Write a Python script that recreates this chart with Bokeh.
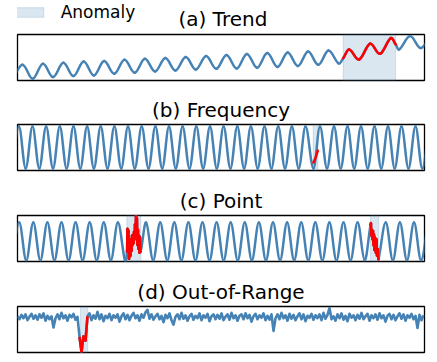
from bokeh.plotting import figure
from bokeh.layouts import column
from bokeh.models import Range1d, Legend, LegendItem, ColumnDataSource, Label
from bokeh.embed import file_html
from bokeh.resources import INLINE

BLUE = "#4682B4"
RED = "#FF0000"

# ---------------- data (time index, value) ----------------
# (a) Trend: extrema of the sinusoid with a rising trend, anomaly = steeper trend
A_T = [-5.2, 5.0, 15.2, 25.4, 35.6, 45.8, 56.0, 66.2, 76.4, 86.6, 96.8, 107.0, 117.2,
       127.4, 137.6, 147.8, 158.0, 168.2, 178.4, 188.6, 198.8, 209.0, 219.2, 229.4,
       239.6, 249.8, 260.0, 270.2, 280.4, 290.6, 300.8, 311.0, 321.2, 325.7, 331.6,
       341.6, 352.6, 362.6, 373.3, 378.3, 381.6, 392.6, 403.3, 413.6]
A_V = [0.8, 15.7, 1.7, 16.7, 3.4, 17.7, 4.4, 19.0, 5.0, 19.4, 6.7, 20.7, 7.7,
       21.7, 9.0, 22.4, 10.0, 23.4, 11.0, 24.4, 11.7, 25.6, 12.0, 26.6,
       12.8, 27.4, 13.6, 28.1, 14.4, 29.0, 15.7, 30.0, 17.0, 22.3, 31.0,
       21.0, 36.7, 26.7, 42.4, 36.0, 31.0, 44.4, 32.4, 45.5]
A_RED = [(325.7, 378.3)]
A_SHADE = [(325.7, 378.0)]
A_YR = (0.0, 46.0)

# (b) Frequency
B_T = [-5.4, 1.4, 8.2, 15.0, 21.8, 28.6, 35.5, 42.3, 49.1, 56.0, 62.8, 69.6, 76.4,
       83.2, 90.0, 96.9, 103.7, 110.5, 117.3, 124.2, 131.0, 137.9, 144.7, 151.5,
       158.3, 165.1, 172.0, 178.8, 185.6, 192.5, 199.3, 206.1, 212.9, 219.8, 226.6,
       233.4, 240.2, 247.0, 253.9, 260.7, 267.5, 274.4, 281.2, 288.0, 296.0, 302.5,
       309.5, 316.5, 323.2, 330.0, 336.7, 343.5, 350.2, 357.0, 363.7, 370.5, 377.2,
       384.0, 391.0, 398.0, 404.8, 411.6]
B_V = [-1, 1, -1, 1, -1, 1, -1, 1, -1, 1, -1, 1, -1,
       1, -1, 1, -1, 1, -1, 1, -1, 1, -1, 1,
       -1, 1, -1, 1, -1, 1, -1, 1, -1, 1, -1,
       1, -1, 1, -1, 1, -1, 1, -1, 1, -1, 1,
       -1, 1, -1, 1, -1, 1, -1, 1, -1, 1, -1,
       1, -1, 1, -1, 1]
B_RED_T = [295.9, 298.0, 300.3]
B_RED_V = [-0.72, -0.5, -0.15]
B_SHADE = [(295.7, 300.3)]
B_YR = (-1.1, 1.1)

# (c) Point
C_T = [-5.4, 1.7, 8.75, 15.8, 22.85, 29.9, 36.95, 44.0, 51.05, 58.1, 65.15, 72.2,
       79.25, 86.3, 93.35, 100.4, 107.45,
       109.5, 110.0, 110.5, 111.0, 111.5, 112.0, 112.5, 113.0, 113.5, 114.0, 114.5,
       115.0, 115.5, 116.0, 116.5, 117.0, 117.5, 118.0, 118.5, 119.0, 119.5, 120.0,
       120.5, 121.0, 121.5, 122.0, 122.5, 123.0,
       128.6, 135.65, 142.7, 149.75, 156.8, 163.85, 170.9, 177.95, 185.0, 192.05,
       199.1, 206.15, 213.2, 220.25, 227.3, 234.35, 241.4, 248.45, 255.5, 262.55,
       269.6, 276.65, 283.7, 290.75, 297.8, 304.85, 311.9, 318.95, 326.0, 333.05,
       340.1, 347.15,
       353.0, 353.5, 354.0, 354.5, 355.0, 355.5, 356.0, 356.5, 357.0, 357.5, 358.0,
       358.5, 359.0, 359.5, 360.0, 360.5, 361.0,
       368.3, 375.35, 382.4, 389.45, 396.5, 403.55, 410.6]
C_V = [-1, 1, -1, 1, -1, 1, -1, 1, -1, 1, -1, 1,
       -1, 1, -1, 1, -1,
       -0.55, 0.65, 0.1, 0.55, -0.91, -0.3, -0.5, -0.75, 0.1, -0.5, 0.3,
       -0.2, 0.33, -0.1, 0.5, 0.1, 0.9, 0.4, 1.35, 0.68, 1.2, -0.2,
       0.6, -0.4, 0.3, -0.6, 0.2, -0.55,
       1, -1, 1, -1, 1, -1, 1, -1, 1, -1,
       1, -1, 1, -1, 1, -1, 1, -1, 1, -1,
       1, -1, 1, -1, 1, -1, 1, -1, 1, -1,
       1, -1,
       0.86, 0.93, 0.3, 0.6, 0.1, 0.55, -0.2, 0.35, -0.45, 0.2, -0.3,
       -0.6, 0.1, -0.75, -0.4, -0.7, -0.95,
       1, -1, 1, -1, 1, -1, 1]
C_RED = [(109.5, 123.0), (353.0, 361.0)]
C_SHADE = [(109.3, 123.3), (353.0, 361.3)]
C_YR = (-1.07, 1.37)

# (d) Out-of-Range: noisy signal sampled every 2 steps
D_STEP = 2
D_V = [0.1, -0.2, 0.25, -0.1, 0.3, -0.3, 0.05, 0.35, -0.15, 0.2,
       -0.25, 0.3, -0.05, 0.4, -0.35, 0.15, -0.2, 0.1, -1.05, -0.1,
       0.3, -0.2, 0.45, -0.1, 0.2, -0.35, 0.25, 0.0, 0.35, -0.25,
       0.05, -2.0, -3.55, -1.95, -2.4, 0.1, 0.4, -0.3, 0.2, -0.15,
       0.55, -0.2, 0.3, -0.4, 0.15, -0.1, 0.35, -0.3, 0.2, -0.05,
       0.3, -0.45, 0.1, 0.4, -0.2, 0.25, -0.3, 0.15, 0.45, -0.1,
       0.2, -0.35, 0.3, -0.05, 0.5, 0.75, -0.15, 0.3, -0.25, 0.1,
       0.35, -0.2, 0.15, -0.5, 0.25, -0.1, 0.4, -0.3, -0.75, 0.05,
       0.3, -0.2, 0.45, -0.15, 0.2, -0.35, 0.1, 0.35, -0.25, 0.15,
       -0.1, 0.4, -0.3, 0.2, -0.05, 0.35, -0.4, 0.1, 0.3, -0.2,
       0.25, -0.15, 0.4, -0.3, 0.05, 0.3, -0.25, 0.45, -0.1, 0.2,
       -0.35, 0.15, 0.3, -0.2, 0.4, -0.1, 0.25, -0.45, 0.1, 0.35,
       -0.2, 0.2, -0.05, 0.4, -0.3, 0.15, -0.25, 0.3, -1.4, -0.1,
       0.3, -0.2, 0.45, -0.1, 0.2, -0.35, 0.35, -0.15, 0.25, -0.3,
       0.1, 0.4, -0.2, 0.3, -0.4, 0.15, -0.05, 0.35, -0.25, 0.2,
       -0.1, 0.3, -0.3, 0.45, -0.15, 0.25, 0.95, -0.2, 0.1, -0.35,
       0.3, -0.1, 0.4, -0.25, 0.15, -0.4, 0.35, -0.05, 0.2, -0.3,
       0.25, -0.15, 0.45, -0.2, 0.1, 0.35, -0.35, 0.2, -0.1, 0.3,
       -0.25, 0.4, -0.1, 0.2, -0.45, 0.15, 0.35, -0.2, 0.25, -0.3,
       0.1, 0.4, -0.15, 0.3, -0.35, 0.2, -0.05, 0.35, -0.2, 0.15,
       -1.1, 0.25, -0.3, 0.2]
D_T = [i * D_STEP for i in range(len(D_V))]
D_RED = [(62.0, 70.0)]
D_SHADE = [(63.0, 70.3)]
D_YR = (-3.6, 1.1)

TITLES = ["(a) Trend", "(b) Frequency", "(c) Point", "(d) Out-of-Range"]
LEGEND_LABEL = "Anomaly"
X_RANGE = (0.0, 407.0)
HEADER_H = 33


def hermite_segments(t, v, k=0.36):
    n = len(t)
    m = []
    for i in range(n):
        a = max(i - 1, 0)
        b = min(i + 1, n - 1)
        m.append((v[b] - v[a]) / (t[b] - t[a]))
    s = dict(x0=[], y0=[], x1=[], y1=[], cx0=[], cy0=[], cx1=[], cy1=[])
    for i in range(n - 1):
        dx = t[i + 1] - t[i]
        s["x0"].append(t[i]); s["y0"].append(v[i])
        s["x1"].append(t[i + 1]); s["y1"].append(v[i + 1])
        s["cx0"].append(t[i] + k * dx); s["cy0"].append(v[i] + m[i] * k * dx)
        s["cx1"].append(t[i + 1] - k * dx); s["cy1"].append(v[i + 1] - m[i + 1] * k * dx)
    return s


def subset(s, ranges):
    out = {key: [] for key in s}
    for i in range(len(s["x0"])):
        for r0, r1 in ranges:
            if s["x0"][i] >= r0 - 1e-9 and s["x1"][i] <= r1 + 1e-9:
                for key in s:
                    out[key].append(s[key][i])
                break
    return out


def style_title(t):
    t.align = "center"
    t.text_font = "DejaVu Sans"
    t.text_font_size = "20px"
    t.text_font_style = "normal"
    t.text_color = "black"
    t.standoff = 6


def make_fig(title, height, top, bottom, yr):
    p = figure(width=437, height=height, x_range=Range1d(*X_RANGE), y_range=Range1d(*yr),
               toolbar_location=None, output_backend="svg",
               x_axis_location=None, y_axis_location=None,
               min_border_left=17, min_border_right=13,
               min_border_top=top, min_border_bottom=bottom)
    p.grid.visible = False
    p.outline_line_color = "black"
    p.outline_line_width = 1.3
    p.outline_line_alpha = 1.0
    p.background_fill_color = "white"
    p.border_fill_color = "white"
    if title is None:
        p.title = None
    else:
        p.title.text = title
        style_title(p.title)
    return p


def shade(p, spans, yr):
    return p.quad(left=[a for a, b in spans], right=[b for a, b in spans],
                  bottom=[yr[0]] * len(spans), top=[yr[1]] * len(spans),
                  fill_color=BLUE, fill_alpha=0.2, line_color=BLUE, line_alpha=0.2,
                  line_width=1)


def curve(p, s, color):
    p.bezier(x0="x0", y0="y0", x1="x1", y1="y1", cx0="cx0", cy0="cy0", cx1="cx1", cy1="cy1",
             source=ColumnDataSource(s), line_color=color, line_width=2.5, line_cap="round")


# header row: legend + title of panel (a)
ph = figure(width=437, height=HEADER_H, x_range=Range1d(0, 437), y_range=Range1d(HEADER_H, 0),
            toolbar_location=None, output_backend="svg",
            x_axis_location=None, y_axis_location=None,
            min_border=0, min_border_left=0, min_border_right=0,
            min_border_top=0, min_border_bottom=0)
ph.grid.visible = False
ph.outline_line_alpha = 0
ph.title = None
leg_r = ph.quad(left=[0], right=[0], top=[0], bottom=[0],
                fill_color=BLUE, fill_alpha=0.2, line_color=BLUE, line_alpha=0.2,
                line_width=1)
legend = Legend(items=[LegendItem(label=LEGEND_LABEL, renderers=[leg_r])],
                location=(-7.3, 10.7),
                orientation="vertical", padding=0, margin=0, spacing=0,
                glyph_width=37, glyph_height=12, label_standoff=14,
                label_text_font="DejaVu Sans", label_text_font_size="17px",
                label_text_color="black", background_fill_alpha=0.0, border_line_alpha=0.0)
ph.add_layout(legend, "center")
ph.add_layout(Label(x=220.5, y=18, text=TITLES[0], text_align="center",
                    text_baseline="middle", text_font="DejaVu Sans",
                    text_font_size="20px", text_color="black"))

# (a)
pa = make_fig(None, 59, 1, 12, A_YR)
shade(pa, A_SHADE, A_YR)
sa = hermite_segments(A_T, A_V)
curve(pa, sa, BLUE)
curve(pa, subset(sa, A_RED), RED)

# (b)
pb = make_fig(TITLES[1], 91, 31, 13, B_YR)
shade(pb, B_SHADE, B_YR)
curve(pb, hermite_segments(B_T, B_V), BLUE)
pb.line(B_RED_T, B_RED_V, line_color=RED, line_width=2.5, line_cap="round")

# (c)
pc = make_fig(TITLES[2], 91, 32, 13, C_YR)
shade(pc, C_SHADE, C_YR)
sc = hermite_segments(C_T, C_V)
curve(pc, sc, BLUE)
curve(pc, subset(sc, C_RED), RED)

# (d)
pd_ = make_fig(TITLES[3], 88, 31, 10, D_YR)
shade(pd_, D_SHADE, D_YR)
pd_.line(D_T, D_V, line_color=BLUE, line_width=2.6, line_join="round")
red_t = [t for t in D_T if any(r0 <= t <= r1 for r0, r1 in D_RED)]
red_v = [v for t, v in zip(D_T, D_V) if any(r0 <= t <= r1 for r0, r1 in D_RED)]
pd_.line(red_t, red_v, line_color=RED, line_width=2.6, line_join="round")

root = column(ph, pa, pb, pc, pd_, spacing=0)

with open("out.html", "w") as f:
    f.write(file_html(root, INLINE))
